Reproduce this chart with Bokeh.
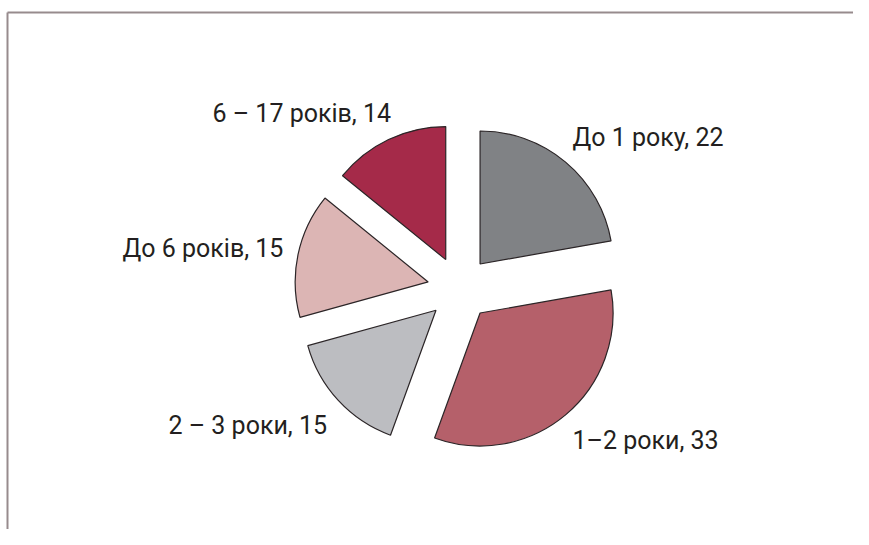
import math
from bokeh.plotting import figure
from bokeh.models import Range1d, ColumnDataSource
from bokeh.core.properties import value
from bokeh.embed import file_html
from bokeh.resources import INLINE

# ---- data ----
categories = ["До 1 року", "1–2 роки", "2 – 3 роки", "До 6 років", "6 – 17 років"]
values = [22, 33, 15, 15, 14]
colors = ["#808285", "#b5606a", "#bcbdc1", "#dcb5b4", "#a52a49"]

# ---- layout (screenshot pixels -> figure data units, y up) ----
W, H = 853, 529
def px(x): return x
def py(y): return H - y

cx, cy = px(459), py(288)
R = 133
explode = 32
label_pos = [(572, 137), (572, 440), (168, 425), (122, 248), (212, 113)]

total = sum(values)
starts, ends, xs, ys = [], [], [], []
cum = 0.0
for v in values:
    a0 = cum / total
    cum += v
    a1 = cum / total
    s = math.radians(90 - 360 * a1)
    e = math.radians(90 - 360 * a0)
    mid = (s + e) / 2
    starts.append(s)
    ends.append(e)
    xs.append(cx + explode * math.cos(mid))
    ys.append(cy + explode * math.sin(mid))

src = ColumnDataSource(dict(x=xs, y=ys, start=starts, end=ends, color=colors))

p = figure(width=W, height=H, output_backend="svg", toolbar_location=None,
           x_range=Range1d(0, W), y_range=Range1d(0, H), min_border=0)
p.axis.visible = False
p.grid.visible = False
p.outline_line_color = None
p.background_fill_color = "white"

p.wedge(x="x", y="y", radius=R, start_angle="start", end_angle="end",
        fill_color="color", line_color="#2b2527", line_width=1.2, source=src)

# frame lines (top and left)
p.line([px(7), px(7)], [py(12), 0], line_color="#978b8d", line_width=2)
p.line([px(7), W], [py(12), py(12)], line_color="#978b8d", line_width=2)

labels = [f"{c}, {v}" for c, v in zip(categories, values)]
lsrc = ColumnDataSource(dict(x=[px(a) for a, b in label_pos],
                             y=[py(b) for a, b in label_pos], t=labels))
p.text(x="x", y="y", text="t", source=lsrc, text_font=value("Roboto"),
       text_font_size="25px", text_color="#231f20",
       text_align="left", text_baseline="middle")

open("out.html", "w").write(file_html(p, INLINE))
